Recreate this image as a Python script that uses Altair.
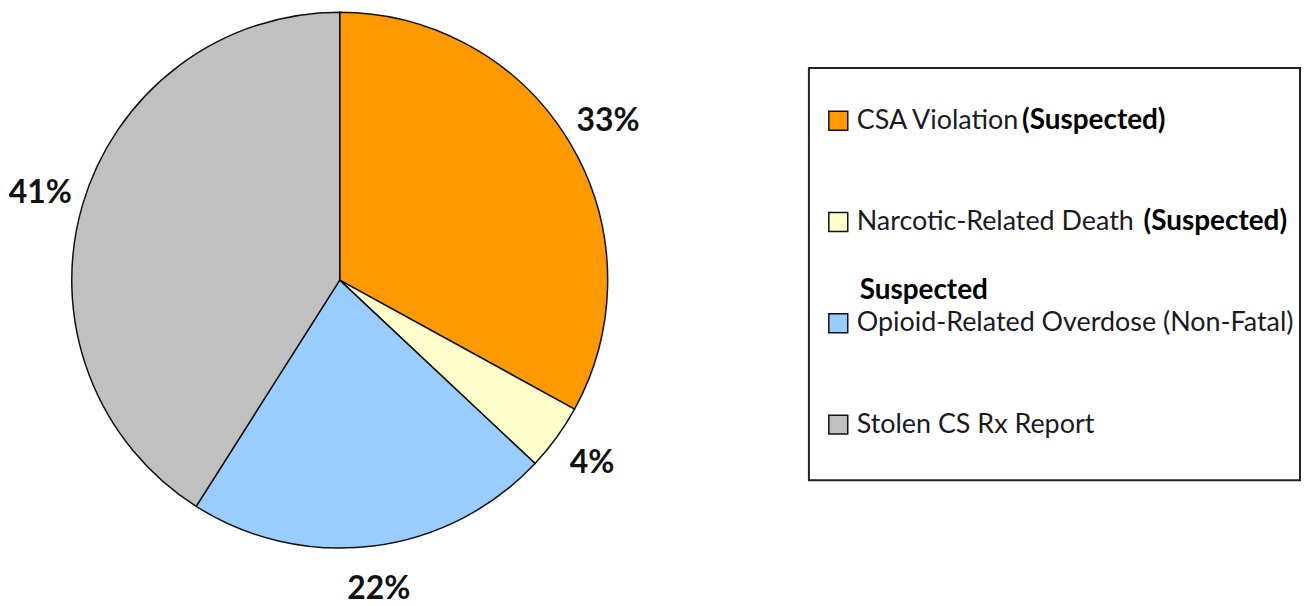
import altair as alt
import pandas as pd

categories = [
    "CSA Violation",
    "Narcotic-Related Death",
    "Opioid-Related Overdose (Non-Fatal)",
    "Stolen CS Rx Report",
]
shares = [33, 4, 22, 41]
pct_labels = ["33%", "4%", "22%", "41%"]
colors = ["#FF9900", "#FFFFCC", "#99CCFF", "#C0C0C0"]
suffixes = ["(Suspected)", "(Suspected)", "", ""]
prefixes = ["", "", "Suspected", ""]

df = pd.DataFrame({
    "category": categories,
    "share": shares,
    "label": pct_labels,
    "order": list(range(len(categories))),
    "suffix": suffixes,
    "prefix": prefixes,
})

color_scale = alt.Scale(domain=categories, range=colors)

base = alt.Chart(df).encode(
    theta=alt.Theta("share:Q", stack=True),
    order=alt.Order("order:Q"),
)
arcs = base.mark_arc(outerRadius=269, stroke="#111111", strokeWidth=1.5, yOffset=-4).encode(
    color=alt.Color("category:N", scale=color_scale, legend=None)
)
texts = base.mark_text(
    radius=313, font="Lato", fontSize=32, fontWeight="bold", color="#111111", yOffset=-4
).encode(text="label:N", detail="category:N")

pie = alt.layer(arcs, texts).properties(
    width=658, height=536, view=alt.ViewBackground(strokeOpacity=0)
)

FONT = "Lato"
FS = 27
box = alt.Chart(df).transform_filter("datum.order == 0").mark_rect(
    fill="white", stroke="#222222", strokeWidth=2
).encode(x=alt.value(0), x2=alt.value(493), y=alt.value(51), y2=alt.value(465))

leg_base = alt.Chart(df).encode(
    y=alt.Y("order:Q", scale=alt.Scale(domain=[-1.0226, 4.248], reverse=True), axis=None)
)
squares = leg_base.mark_square(size=361, stroke="#111111", strokeWidth=1.5, opacity=1).encode(
    x=alt.value(29.5),
    color=alt.Color("category:N", scale=color_scale, legend=None),
)
labels = leg_base.mark_text(
    align="left", baseline="middle", font=FONT, fontSize=FS, color="#1a1a24"
).encode(x=alt.value(48), text="category:N")
suf0 = leg_base.transform_filter("datum.order == 0").mark_text(
    align="left", baseline="middle", font=FONT, fontSize=28, fontWeight="bold", color="black"
).encode(x=alt.value(214), text="suffix:N")
suf1 = leg_base.transform_filter("datum.order == 1").mark_text(
    align="left", baseline="middle", font=FONT, fontSize=28, fontWeight="bold", color="black"
).encode(x=alt.value(336), text="suffix:N")
pre2 = leg_base.transform_filter("datum.order == 2").mark_text(
    align="left", baseline="middle", font=FONT, fontSize=28, fontWeight="bold", color="black", dy=-32
).encode(x=alt.value(51), text="prefix:N")

legend = alt.layer(box, squares, labels, suf0, suf1, pre2).properties(
    width=493, height=536, view=alt.ViewBackground(strokeOpacity=0)
)

chart = alt.hconcat(pie, legend, spacing=141, padding=0)

chart.save("out.html", embed_options={"renderer": "svg", "actions": False})
